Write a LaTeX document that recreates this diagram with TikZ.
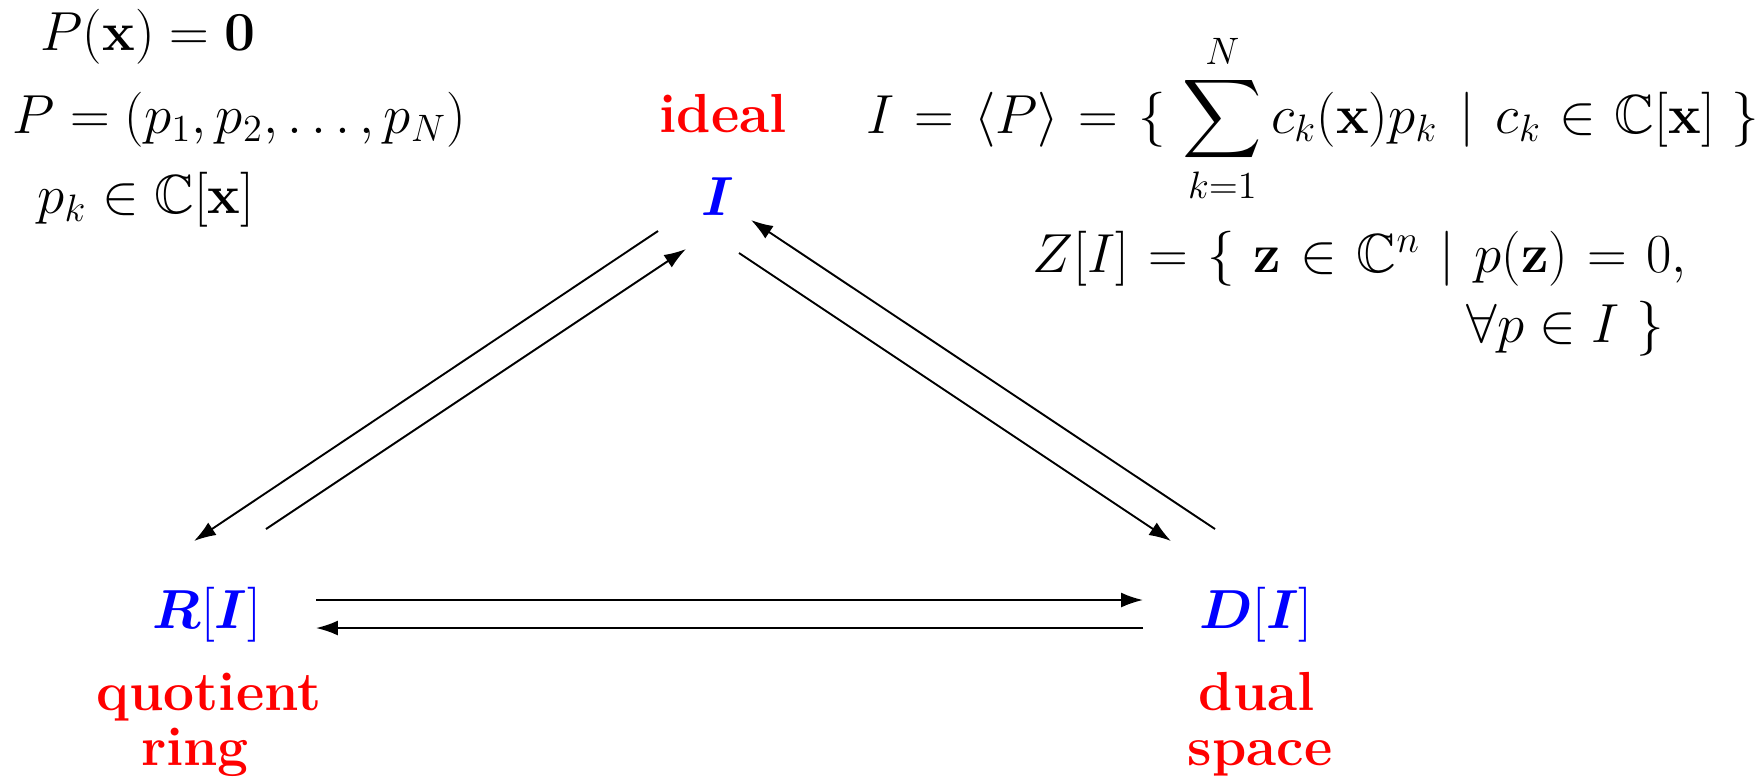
\documentclass[tikz,border=0pt]{standalone}
\usepackage{amsmath,amssymb}
\usetikzlibrary{arrows.meta}
\definecolor{objB}{RGB}{0,0,255}
\definecolor{lblR}{RGB}{255,0,0}

\begin{document}
\begin{tikzpicture}[x={(0.314pt,0)},y={(0,-0.314pt)},>={Latex[length=6.9pt,width=4.7pt]},
  every node/.style={inner sep=0pt,font=\LARGE},
  obj/.style={objB,anchor=base},
  lbl/.style={lblR,anchor=base,font=\LARGE\bfseries}]
\useasboundingbox (0,0) rectangle (1758,778);
% corners of the triangle
\node[obj] (I) at (718,215) {$\boldsymbol{I}$};
\node[obj] (R) at (207,628) {$\boldsymbol{R}[\boldsymbol{I}]$};
\node[obj] (D) at (1256,628) {$\boldsymbol{D}[\boldsymbol{I}]$};
\node[lbl] (ideal) at (723,132) {ideal};
\node[lbl] (quot) at (209,710) {quotient};
\node[lbl] (ring) at (195,765) {ring};
\node[lbl] (dual) at (1257,710) {dual};
\node[lbl] (space) at (1260,765) {space};
% definitions
\node[anchor=base west] (zero) at (40,50) {$P(\mathbf{x})=\mathbf{0}$};
\node[anchor=base west] (Pdef) at (12,133) {$P=(p_1,p_2,\ldots,p_N)$};
\node[anchor=base west] (pk) at (37,213) {$p_k\in\mathbb{C}[\mathbf{x}]$};
\node[anchor=base west] (Idef) at (866,133)
  {$\displaystyle I\mskip1.5mu=\mskip1.5mu\langle P\rangle\mskip1.5mu=\mskip1.5mu\{\ \sum_{k=1}^{N}c_k(\mathbf{x})p_k\mskip2mu\mid\mskip2mu c_k\mskip1mu\in\mskip1mu\mathbb{C}[\mathbf{x}]\ \}$};
\node[anchor=base west] (Zdef) at (1032,272)
  {\hbox to 205.4pt{$Z[I]=\{\ \mathbf{z}\in\mathbb{C}^n \mid p(\mathbf{z})=0,$}};
\node[anchor=base west] (Zend) at (1466,342) {$\forall p\in I\ \}$};
% maps between the corners
\draw[->,semithick] ([shift={(-60,16)}]I.base) -- ([shift={(-13,-87)}]R.base);
\draw[->,semithick] ([shift={(59,-99)}]R.base) -- ([shift={(-32,34)}]I.base);
\draw[->,semithick] ([shift={(21,38)}]I.base) -- ([shift={(-85,-87)}]D.base);
\draw[->,semithick] ([shift={(-41,-99)}]D.base) -- ([shift={(33,5)}]I.base);
\draw[->,semithick] ([shift={(109,-28)}]R.base) -- ([shift={(-113,-28)}]D.base);
\draw[->,semithick] ([shift={(-113,0)}]D.base) -- ([shift={(109,0)}]R.base);
\end{tikzpicture}
\end{document}
